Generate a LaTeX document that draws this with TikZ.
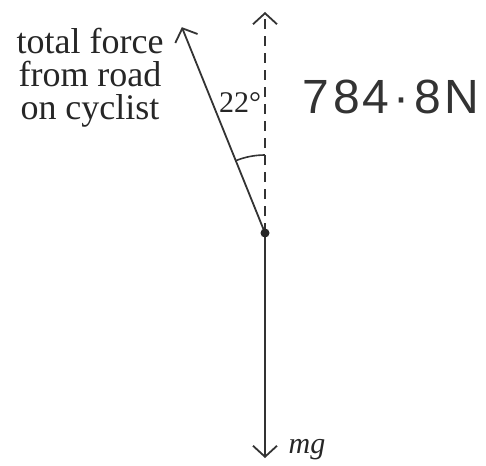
\documentclass[tikz,border=0pt]{standalone}
\usepackage{fontspec}
\setmainfont{Liberation Serif}
\newfontfamily\handfont{Liberation Sans}
\usetikzlibrary{arrows.meta,calc}

\begin{document}
\begin{tikzpicture}[x=1pt,y=-1pt,
    vec/.style={-{Straight Barb[length=11pt,width=24pt]}, line width=1.8pt, draw=black!80},
    guide/.style={vec, dash pattern=on 10pt off 7pt},
    lbl/.style={font=\fontsize{36}{33}\selectfont, text=black!85, align=center, inner sep=0pt}
]
    \useasboundingbox (0,0) rectangle (486,465);

    % point of contact and vector ends
    \coordinate (O) at (265,233);
    \coordinate (up) at (265,12);
    \coordinate (force) at ($(O)+(-112:222)$);
    \coordinate (weight) at (265,458);

    % vectors
    \draw[guide] (O) -- (up);
    \draw[vec] (O) -- (force);
    \draw[vec] (O) -- (weight);
    \fill[black!85] (O) circle (4.5pt);

    % angle
    \draw[line width=1.6pt, draw=black!80] ($(O)+(-90:78)$) arc[start angle=-90, end angle=-112, radius=78];
    \node[lbl, font=\fontsize{30}{33}\selectfont] (ang) at (240,103) {22°};

    % labels
    \node[lbl] (total) at (90,78) {total force\\from road\\on cyclist};
    \node[lbl, font=\fontsize{30}{33}\selectfont\itshape] (mg) at (307,450) {mg};
    \node[lbl, font=\fontsize{48}{48}\handfont, text=black!80] (value) at (391,97) {7\kern4pt8\kern2pt4\kern5pt·\kern5pt8\kern3ptN};
\end{tikzpicture}
\end{document}
